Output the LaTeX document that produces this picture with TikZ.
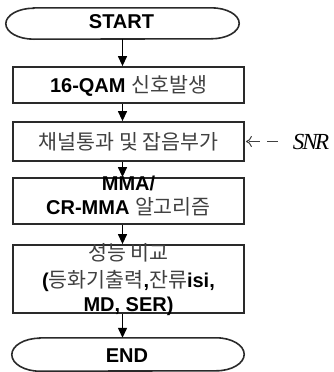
\documentclass[tikz,border=0pt]{standalone}
\usepackage{fontspec}
\setmainfont{Liberation Sans}
\newfontfamily\kofont[Scale=1.03]{Noto Sans CJK KR}
\newfontfamily\snrfont{Liberation Serif}
\usetikzlibrary{arrows.meta,calc}
\definecolor{kogray}{HTML}{404040}
\definecolor{edge}{HTML}{2A2A2A}
\newcommand{\ko}[1]{{\kofont\mdseries\color{kogray}#1}}
\tikzset{
  stepbox/.style={draw=edge, line width=1.8pt, minimum width=231pt, inner sep=0pt},
  term/.style={draw=none, minimum width=232pt, inner sep=0pt},
  lbl/.style={anchor=base, inner sep=0pt, font=\fontsize{20}{20}\selectfont\bfseries},
  flow/.style={line width=1.3pt, -{Triangle[length=10pt,width=9pt]}},
  snrarrow/.style={line width=1pt, draw=kogray, dash pattern=on 11pt off 7pt, -{To[length=6pt,width=11pt]}},
  outline/.style={draw=edge, line width=1.6pt}
}
\begin{document}
\begin{tikzpicture}[x=1pt,y=-1pt]
\useasboundingbox (0,0) rectangle (333,372);
% terminals
\node[term, minimum width=233pt, minimum height=31pt] (start) at (122.5,23.5) {};
\node[term, minimum width=232pt, minimum height=33pt] (end) at (128,354.5) {};
\draw[outline] ($(start.north west)+(28,0)$) -- ($(start.north east)+(-28,0)$)
   arc[start angle=90, end angle=-90, x radius=28pt, y radius=15.5pt]
   -- ($(start.south west)+(28,0)$)
   arc[start angle=270, end angle=90, x radius=28pt, y radius=15.5pt] -- cycle;
\draw[outline] ($(end.north west)+(28,0)$) -- ($(end.north east)+(-28,0)$)
   arc[start angle=90, end angle=-90, x radius=28pt, y radius=16.5pt]
   -- ($(end.south west)+(28,0)$)
   arc[start angle=270, end angle=90, x radius=28pt, y radius=16.5pt] -- cycle;
% boxes
\node[stepbox, minimum height=36pt] (b1) at (128.5,85) {};
\node[stepbox, minimum height=39pt] (b2) at (128.5,141.5) {};
\node[stepbox, minimum height=46pt] (b3) at (128.5,201) {};
\node[stepbox, minimum height=68pt] (b4) at (128.5,279) {};
% labels
\node[lbl] (tstart) at (121.5,28.5) {START};
\node[lbl] (t1) at (128.5,92) {16-QAM \ko{신호발생}};
\node[lbl] (t2) at (128.5,149) {\ko{채널통과 및 잡음부가}};
\node[lbl] (t3a) at (128.5,190) {MMA/};
\node[lbl] (t3b) at (128.5,214) {CR-MMA \ko{알고리즘}};
\node[lbl] (t4a) at (128.5,260) {\ko{성능 비교}};
\node[lbl] (t4b) at (128.5,287) {(\ko{등화기출력},\ko{잔류}isi,};
\node[lbl] (t4c) at (128.5,311) {MD, SER)};
\node[lbl] (tend) at (127,362) {END};
\node[anchor=base, inner sep=0pt, font=\fontsize{23}{23}\selectfont\snrfont\itshape] (snr) at (311,149) {S\kern-2pt N\kern-2.5pt R};
% connectors
\draw[flow] (start.south) -- (start.south |- b1.north);
\draw[flow] (b1.south -| start.south) -- (b2.north -| start.south);
\draw[flow] (b2.south -| start.south) -- (b3.north -| start.south);
\draw[flow] (b3.south -| start.south) -- (b4.north -| start.south);
\draw[flow] (b4.south -| start.south) -- (end.north -| start.south);
\draw[snrarrow] ($(b2.east)+(33,0)$) coordinate (snrtail) -- ($(b2.east)+(1,0)$);
\end{tikzpicture}
\end{document}
